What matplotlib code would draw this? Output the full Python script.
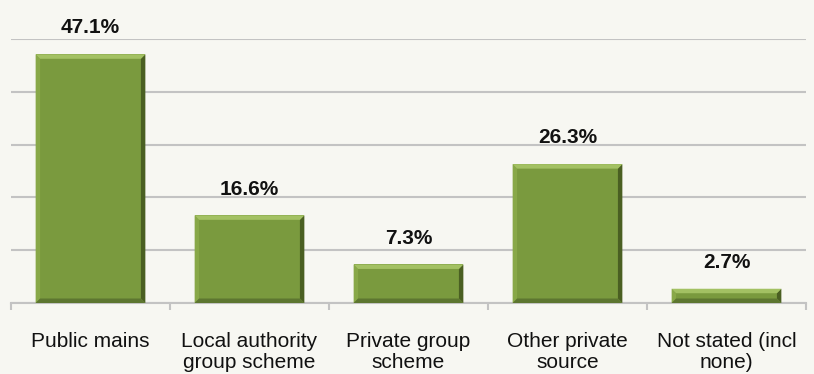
import numpy             as np
import matplotlib.pyplot as plt
from matplotlib.patches import Polygon

categories = ['Public mains', 'Local authority\ngroup scheme', 'Private group\nscheme',
              'Other private\nsource', 'Not stated (incl\nnone)']
values     = [47.1, 16.6, 7.3, 26.3, 2.7]

bg       = '#f7f7f2'
face     = '#7a9a3e'
light    = '#a3c163'
lightish = '#88a848'
dark     = '#4a5f22'
darkish  = '#5d7630'
grid_col = '#c3c3c3'

plt.rcParams['font.family'] = ['Liberation Sans', 'DejaVu Sans']

fig = plt.figure(figsize=(8.14, 3.74), dpi=100, facecolor=bg)
ax = fig.add_axes([11/814, 71/374, 795/814, 264/374], facecolor=bg)

x     = np.arange(len(values))
width = 0.69
ax.bar(x, values, width=width, color=face, zorder=3)

# Bevel effect on each bar
bx = 0.028   # bevel width in category units
by = 0.85    # bevel height in data units
for xi, v in zip(x, values):
    l, r = xi - width / 2, xi + width / 2
    b = min(by, v / 3)
    top    = [(l, v), (r, v), (r - bx, v - b), (l + bx, v - b)]
    bottom = [(l, 0), (r, 0), (r - bx, b), (l + bx, b)]
    left   = [(l, 0), (l, v), (l + bx, v - b), (l + bx, b)]
    right  = [(r, 0), (r, v), (r - bx, v - b), (r - bx, b)]
    for pts, c in [(left, lightish), (right, dark), (bottom, darkish), (top, light)]:
        ax.add_patch(Polygon(pts, closed=True, facecolor=c, edgecolor='none', zorder=4))
    ax.annotate(f'{v:.1f}%', (xi, v), xytext=(0, 15), textcoords='offset points',
                ha='center', va='baseline', fontsize=15, fontweight='bold', color='#111111')

ax.set_xlim(-0.5, len(values) - 0.5)
ax.set_ylim(0, 50)
ax.set_yticks(np.arange(0, 51, 10))
ax.yaxis.grid(True, color=grid_col, linewidth=1.5, zorder=0)
ax.tick_params(axis='y', length=0, labelleft=False)

ax.set_xticks(np.arange(-0.5, len(values), 1.0))
ax.set_xticklabels([])
ax.set_xticks(x, minor=True)
ax.set_xticklabels(categories, minor=True, fontsize=15, color='#111111', linespacing=1.15)
ax.tick_params(axis='x', which='major', length=5, width=1.5, color=grid_col, direction='out')
ax.tick_params(axis='x', which='minor', length=0, pad=21)

for s in ['top', 'right', 'left']:
    ax.spines[s].set_visible(False)
ax.spines['bottom'].set_color(grid_col)
ax.spines['bottom'].set_linewidth(1.5)

fig.savefig('out.png', dpi=100, facecolor=bg)
